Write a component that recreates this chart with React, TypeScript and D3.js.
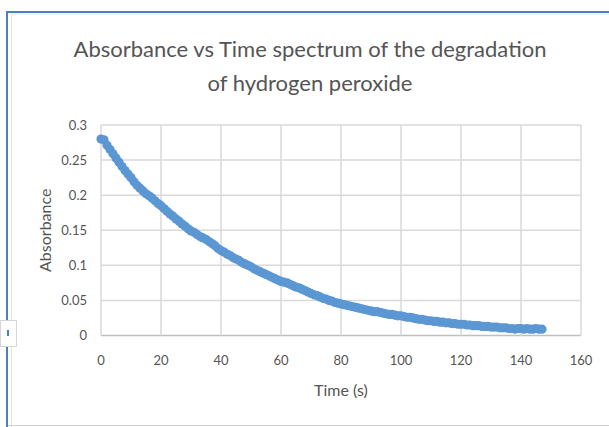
import React from "react";
import * as d3 from "d3";

const titleLines = ["Absorbance vs Time spectrum of the degradation", "of hydrogen peroxide"];
const xAxisTitle = "Time (s)";
const yAxisTitle = "Absorbance";
const xTicks = [0, 20, 40, 60, 80, 100, 120, 140, 160];
const yTicks = [0, 0.05, 0.1, 0.15, 0.2, 0.25, 0.3];
const yTickLabels = ["0", "0.05", "0.1", "0.15", "0.2", "0.25", "0.3"];

const timeSeconds = [
  0, 1, 2, 3, 4, 5, 6, 7, 8, 9, 10, 11, 12, 13, 14, 15, 16, 17, 18, 19,
  20, 21, 22, 23, 24, 25, 26, 27, 28, 29, 30, 31, 32, 33, 34, 35, 36, 37, 38, 39,
  40, 41, 42, 43, 44, 45, 46, 47, 48, 49, 50, 51, 52, 53, 54, 55, 56, 57, 58, 59,
  60, 61, 62, 63, 64, 65, 66, 67, 68, 69, 70, 71, 72, 73, 74, 75, 76, 77, 78, 79,
  80, 81, 82, 83, 84, 85, 86, 87, 88, 89, 90, 91, 92, 93, 94, 95, 96, 97, 98, 99,
  100, 101, 102, 103, 104, 105, 106, 107, 108, 109, 110, 111, 112, 113, 114, 115, 116, 117, 118, 119,
  120, 121, 122, 123, 124, 125, 126, 127, 128, 129, 130, 131, 132, 133, 134, 135, 136, 137, 138, 139,
  140, 141, 142, 143, 144, 145, 146, 147,
];

const absorbance = [
  0.280, 0.279, 0.271, 0.265, 0.259, 0.253, 0.247, 0.241, 0.235, 0.230,
  0.225, 0.219, 0.214, 0.210, 0.206, 0.202, 0.199, 0.196, 0.192, 0.188,
  0.185, 0.181, 0.177, 0.173, 0.170, 0.166, 0.163, 0.159, 0.156, 0.152,
  0.149, 0.147, 0.144, 0.141, 0.139, 0.137, 0.134, 0.131, 0.128, 0.124,
  0.121, 0.119, 0.116, 0.114, 0.111, 0.109, 0.107, 0.104, 0.102, 0.100,
  0.098, 0.095, 0.093, 0.091, 0.089, 0.087, 0.085, 0.083, 0.081, 0.079,
  0.077, 0.076, 0.075, 0.073, 0.071, 0.069, 0.068, 0.066, 0.064, 0.062,
  0.060, 0.058, 0.057, 0.055, 0.053, 0.052, 0.050, 0.049, 0.047, 0.046,
  0.045, 0.044, 0.043, 0.042, 0.041, 0.040, 0.039, 0.038, 0.037, 0.036,
  0.035, 0.034, 0.034, 0.033, 0.032, 0.031, 0.030, 0.030, 0.029, 0.028,
  0.028, 0.027, 0.026, 0.026, 0.025, 0.024, 0.023, 0.023, 0.022, 0.021,
  0.021, 0.020, 0.020, 0.019, 0.019, 0.018, 0.018, 0.017, 0.017, 0.016,
  0.016, 0.016, 0.015, 0.015, 0.014, 0.014, 0.014, 0.013, 0.013, 0.013,
  0.012, 0.012, 0.012, 0.011, 0.011, 0.011, 0.010, 0.010, 0.009, 0.010,
  0.010, 0.009, 0.010, 0.009, 0.009, 0.010, 0.009, 0.009,
];

const W = 609;
const H = 427;
const plot = { left: 101, right: 581, top: 125, bottom: 335.5 };
const FONT = "Lato, 'Open Sans', sans-serif";
const TEXT = "#555555";
const GRID = "#d9d9d9";
const DOT = "#5b97d3";

export default function App() {
  const x = d3.scaleLinear().domain([0, 160]).range([plot.left, plot.right]);
  const y = d3.scaleLinear().domain([0, 0.3]).range([plot.bottom, plot.top]);
  const points = timeSeconds.map((t, i) => ({ t, a: absorbance[i] }));

  return (
    <svg
      width={W}
      height={H}
      style={{ position: "absolute", left: 0, top: 0, background: "#fff" }}
      fontFamily={FONT}
    >
      <rect x={0} y={0} width={W} height={H} fill="#fff" />
      {/* outer frame */}
      <line x1={7} y1={12} x2={W} y2={12} stroke="#4a7fc1" strokeWidth={2} />
      <line x1={7} y1={11} x2={7} y2={H} stroke="#4a7fc1" strokeWidth={2} />
      <line x1={11} y1={14} x2={W} y2={14} stroke="#e4e4e4" strokeWidth={1} />
      <line x1={11.5} y1={14} x2={11.5} y2={H} stroke="#e4e4e4" strokeWidth={1} />
      <line x1={8} y1={425.5} x2={W} y2={425.5} stroke="#d0d0d0" strokeWidth={1} />
      {/* small side tab */}
      <rect x={0.5} y={320.5} width={16} height={26} fill="#fff" stroke="#d6d6d6" />
      <rect x={7} y={330} width={2} height={6} fill="#4a7fc1" />

      {/* title */}
      {titleLines.map((line, i) => (
        <text
          key={i}
          x={310}
          y={57 + i * 34}
          textAnchor="middle"
          fontSize={22}
          fill={TEXT}
        >
          {line}
        </text>
      ))}

      {/* gridlines */}
      {yTicks.map((v) => (
        <line
          key={"gy" + v}
          x1={plot.left}
          x2={plot.right}
          y1={y(v)}
          y2={y(v)}
          stroke={v === 0 ? "#bfbfbf" : GRID}
          strokeWidth={1.5}
        />
      ))}
      {xTicks.map((v) => (
        <line
          key={"gx" + v}
          x1={x(v)}
          x2={x(v)}
          y1={plot.top}
          y2={plot.bottom}
          stroke={GRID}
          strokeWidth={1.5}
        />
      ))}

      {/* tick labels */}
      {yTicks.map((v, i) => (
        <text
          key={"ty" + v}
          x={87}
          y={y(v)}
          dy="0.35em"
          textAnchor="end"
          fontSize={13}
          fill={TEXT}
        >
          {yTickLabels[i]}
        </text>
      ))}
      {xTicks.map((v) => (
        <text
          key={"tx" + v}
          x={x(v)}
          y={360}
          dy="0.35em"
          textAnchor="middle"
          fontSize={13}
          fill={TEXT}
        >
          {v}
        </text>
      ))}

      {/* axis titles */}
      <text x={341} y={390} dy="0.35em" textAnchor="middle" fontSize={16} fill={TEXT}>
        {xAxisTitle}
      </text>
      <text
        transform={`translate(45,${(plot.top + plot.bottom) / 2}) rotate(-90)`}
        dy="0.35em"
        textAnchor="middle"
        fontSize={16}
        fill={TEXT}
      >
        {yAxisTitle}
      </text>

      {/* data */}
      {points.map((p, i) => (
        <circle key={i} cx={x(p.t)} cy={y(p.a)} r={4.6} fill={DOT} />
      ))}
    </svg>
  );
}
